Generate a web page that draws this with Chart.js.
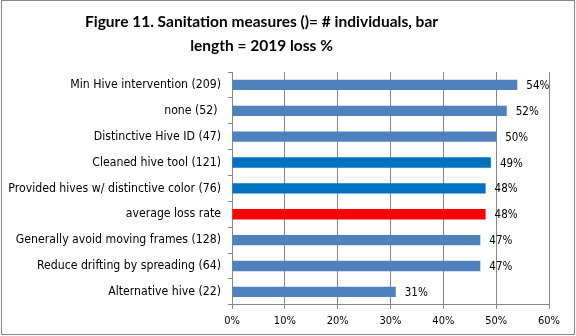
<!DOCTYPE html>
<html>
<head>
<meta charset="utf-8">
<script src="https://cdn.jsdelivr.net/npm/chart.js@4/dist/chart.umd.min.js"></script>
<style>
  html, body { margin: 0; padding: 0; background: #fff; }
  #wrap { width: 576px; height: 336px; position: relative; }
</style>
</head>
<body>
<div id="wrap"><canvas id="c" width="576" height="336"></canvas></div>
<script>
const categories = [
  "Min Hive intervention (209)",
  "none (52) ",
  "Distinctive Hive ID (47)",
  "Cleaned hive tool (121)",
  "Provided hives w/ distinctive color (76)",
  "average loss rate",
  "Generally avoid moving frames (128)",
  "Reduce drifting by spreading (64)",
  "Alternative hive (22)"
];
const lossPercent = [54, 52, 50, 49, 48, 48, 47, 47, 31];
const barKinds = ["std", "std", "std", "dark", "dark", "avg", "std", "std", "std"];
const xTicks = [0, 10, 20, 30, 40, 50, 60];
const titleLines = ["Figure 11. Sanitation measures ()= # individuals, bar", "length = 2019 loss %"];

const kindColor = { std: "#4F81BD", dark: "#0070C0", avg: "#FF0000" };
const labelFont = "DejaVu Sans Condensed, DejaVu Sans, sans-serif";

const dataLabels = {
  id: "dataLabels",
  afterDatasetsDraw(chart) {
    const ctx = chart.ctx;
    const meta = chart.getDatasetMeta(0);
    ctx.save();
    ctx.font = "11.5px " + labelFont;
    ctx.fillStyle = "#000";
    ctx.textAlign = "left";
    ctx.textBaseline = "middle";
    meta.data.forEach((bar, i) => {
      ctx.fillText(lossPercent[i] + "%", bar.x + 9, bar.y + 1);
    });
    ctx.restore();
  }
};

const titleBlock = {
  id: "titleBlock",
  afterDraw(chart) {
    const ctx = chart.ctx;
    ctx.save();
    ctx.font = "bold 15.5px Lato, Liberation Sans, sans-serif";
    ctx.fillStyle = "#000";
    ctx.textAlign = "center";
    ctx.textBaseline = "alphabetic";
    titleLines.forEach((line, i) => ctx.fillText(line, 261.5, 27 + i * 24));
    ctx.restore();
  }
};

const frame = {
  id: "frame",
  afterDraw(chart) {
    const ctx = chart.ctx;
    ctx.save();
    ctx.strokeStyle = "#868686";
    ctx.lineWidth = 1;
    ctx.strokeRect(1.5, 0.5, 573, 334);
    ctx.restore();
  }
};

new Chart(document.getElementById("c"), {
  type: "bar",
  data: {
    labels: categories,
    datasets: [{
      data: lossPercent,
      backgroundColor: barKinds.map(k => kindColor[k]),
      categoryPercentage: 1,
      barPercentage: 0.4
    }]
  },
  options: {
    indexAxis: "y",
    responsive: false,
    animation: false,
    devicePixelRatio: 1,
    layout: { padding: { left: 8, right: 27, top: 72, bottom: 2 } },
    plugins: {
      legend: { display: false },
      tooltip: { enabled: false },
      title: { display: false }
    },
    scales: {
      x: {
        min: 0,
        max: 60,
        afterBuildTicks(scale) { scale.ticks = xTicks.map(v => ({ value: v })); },
        ticks: {
          callback: v => v + "%",
          color: "#000",
          font: { family: labelFont, size: 11 },
          padding: 6
        },
        grid: { color: "#868686", tickLength: 4, drawTicks: true },
        border: { display: true, color: "#868686" }
      },
      y: {
        afterFit(scale) { scale.width = 224; },
        ticks: {
          color: "#000",
          font: { family: labelFont, size: 12.2 },
          padding: 7,
          autoSkip: false
        },
        grid: { drawOnChartArea: false, drawTicks: true, tickLength: 4, color: "#868686", offset: true },
        border: { display: true, color: "#868686" }
      }
    }
  },
  plugins: [dataLabels, titleBlock, frame]
});
</script>
</body>
</html>
